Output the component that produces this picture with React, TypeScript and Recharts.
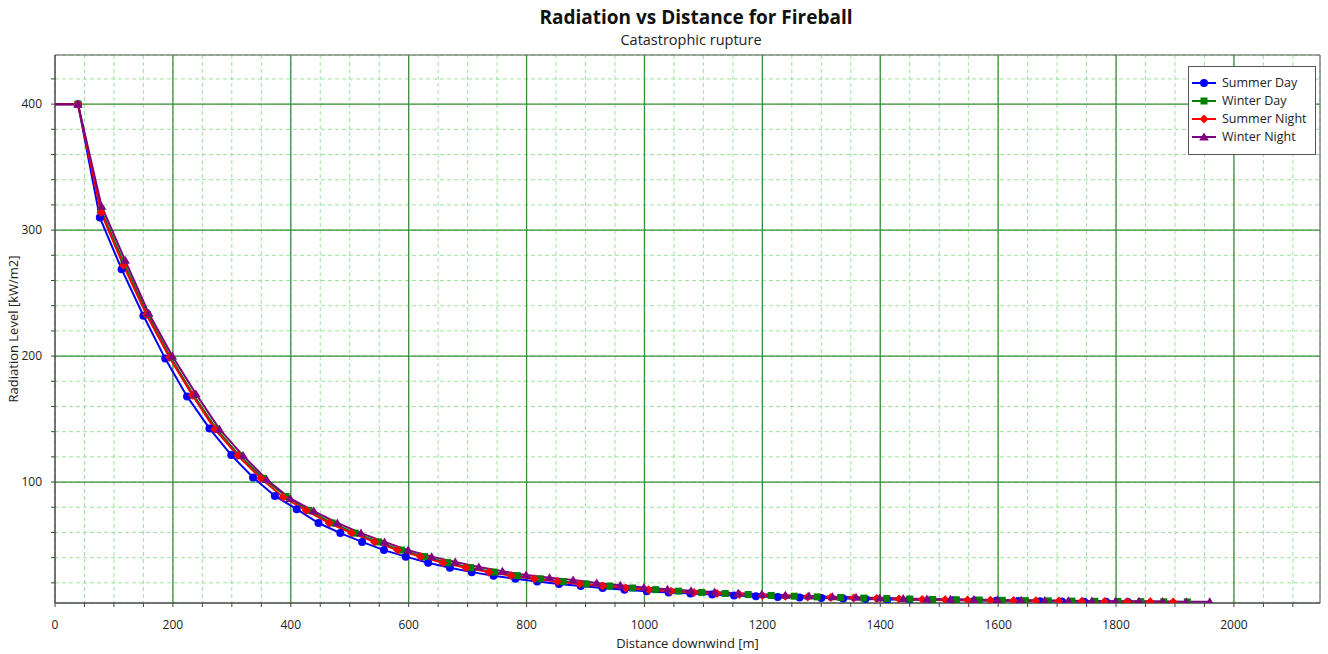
import React from 'react';
import { LineChart, Line, XAxis, YAxis, CartesianGrid, ReferenceLine, ReferenceArea, Legend } from 'recharts';

const FONT = '"Segoe UI", "Open Sans", "Noto Sans", sans-serif';

const chartTitle = 'Radiation vs Distance for Fireball';
const chartSubtitle = 'Catastrophic rupture';
const xAxisTitle = 'Distance downwind [m]';
const yAxisTitle = 'Radiation Level [kW/m2]';

const seriesNames = ['Summer Day', 'Winter Day', 'Summer Night', 'Winter Night'];
const seriesColors = ['#0000FF', '#008000', '#FF0000', '#800080'];
const seriesShapes = ['circle', 'square', 'diamond', 'triangle'];

const summerDayX = [0, 39, 76, 113, 150, 187, 224, 262, 299, 336, 373, 410, 447, 484, 521, 558, 595, 633, 670, 707, 744, 781, 818, 855, 892, 929, 966, 1004, 1041, 1078, 1115, 1152, 1189, 1226, 1263, 1300, 1337, 1375, 1412, 1449, 1486, 1523, 1560, 1597, 1634, 1671, 1708, 1746, 1783, 1820];
const summerDayY = [400, 400, 310, 269, 232, 198, 168, 142.6, 121.4, 103.7, 89, 78.5, 67.5, 59.5, 52.5, 46, 40.8, 36, 32, 28.5, 25.7, 23.2, 21, 19.1, 17.4, 15.9, 14.6, 13.4, 12.4, 11.5, 10.7, 10, 9.4, 8.85, 8.35, 7.9, 7.5, 7.15, 6.85, 6.6, 6.35, 6.1, 5.9, 5.7, 5.5, 5.35, 5.2, 5.05, 4.9, 4.8];

const winterDayX = [0, 39, 78, 117, 157, 196, 235, 274, 313, 353, 392, 431, 470, 509, 549, 588, 627, 666, 705, 745, 784, 823, 862, 901, 941, 980, 1019, 1058, 1097, 1137, 1176, 1215, 1254, 1293, 1333, 1372, 1411, 1450, 1489, 1529, 1568, 1607, 1646, 1685, 1725, 1764, 1803, 1842, 1881, 1921];
const winterDayY = [400, 400, 316, 274, 233, 199, 169, 142, 121, 103, 88.5, 77.5, 67.5, 59.5, 52.5, 46, 40.8, 36, 32, 28.5, 25.7, 23.2, 21, 19.1, 17.4, 15.9, 14.6, 13.4, 12.4, 11.5, 10.7, 10, 9.4, 8.85, 8.35, 7.9, 7.5, 7.15, 6.85, 6.6, 6.35, 6.1, 5.9, 5.7, 5.5, 5.35, 5.2, 5.05, 4.9, 4.8];

const summerNightX = [0, 39, 78, 116, 155, 194, 233, 271, 310, 349, 387, 426, 465, 503, 542, 581, 620, 658, 697, 736, 774, 813, 852, 890, 929, 968, 1007, 1045, 1084, 1123, 1161, 1200, 1239, 1277, 1316, 1355, 1394, 1432, 1471, 1510, 1548, 1587, 1626, 1664, 1703, 1742, 1781, 1819, 1858, 1897];
const summerNightY = [400, 400, 314, 272, 233, 199, 169, 142, 121, 103, 88, 77.5, 67.5, 59.5, 52.5, 46, 40.8, 36, 32, 28.5, 25.7, 23.2, 21, 19.1, 17.4, 15.9, 14.6, 13.4, 12.4, 11.5, 10.7, 10, 9.4, 8.85, 8.35, 7.9, 7.5, 7.15, 6.85, 6.6, 6.35, 6.1, 5.9, 5.7, 5.5, 5.35, 5.2, 5.05, 4.9, 4.8];

const winterNightX = [0, 39, 79, 119, 159, 199, 239, 279, 319, 359, 399, 439, 479, 519, 559, 599, 639, 679, 719, 759, 799, 839, 879, 919, 959, 999, 1039, 1079, 1119, 1159, 1199, 1239, 1279, 1319, 1359, 1399, 1439, 1479, 1519, 1559, 1599, 1639, 1679, 1719, 1759, 1799, 1839, 1879, 1919, 1959];
const winterNightY = [400, 400, 319, 276, 234, 200, 170, 142, 121, 102, 87, 77, 67.5, 59.5, 52.5, 46, 40.8, 36.5, 32.5, 29.2, 26.2, 24, 22.2, 19.8, 18, 16.4, 15, 13.8, 12.7, 11.8, 10.9, 10.2, 9.6, 9, 8.5, 8, 7.6, 7.25, 6.95, 6.7, 6.45, 6.2, 6, 5.8, 5.6, 5.45, 5.3, 5.15, 5, 4.9];

const xTicks = [0, 50, 100, 150, 200, 250, 300, 350, 400, 450, 500, 550, 600, 650, 700, 750, 800, 850, 900, 950, 1000, 1050, 1100, 1150, 1200, 1250, 1300, 1350, 1400, 1450, 1500, 1550, 1600, 1650, 1700, 1750, 1800, 1850, 1900, 1950, 2000, 2050, 2100];
const xMajor = [200, 400, 600, 800, 1000, 1200, 1400, 1600, 1800, 2000];
const yTicks = [20, 40, 60, 80, 100, 120, 140, 160, 180, 200, 220, 240, 260, 280, 300, 320, 340, 360, 380, 400, 420];
const yMajor = [100, 200, 300, 400];

const X_MIN = 0;
const X_MAX = 2146;
const Y_MIN = 4;
const Y_MAX = 439;

const toPoints = (xs: number[], ys: number[]) => xs.map((x, i) => ({ x, y: ys[i] }));

const seriesData = [
  toPoints(summerDayX, summerDayY),
  toPoints(winterDayX, winterDayY),
  toPoints(summerNightX, summerNightY),
  toPoints(winterNightX, winterNightY),
];

function Marker({ shape, color, cx, cy }: { shape: string; color: string; cx: number; cy: number }) {
  if (shape === 'circle') return <circle cx={cx} cy={cy} r={4} fill={color} />;
  if (shape === 'square') return <rect x={cx - 3.5} y={cy - 3.5} width={7} height={7} fill={color} />;
  if (shape === 'diamond')
    return <polygon points={`${cx},${cy - 4.5} ${cx + 4.5},${cy} ${cx},${cy + 4.5} ${cx - 4.5},${cy}`} fill={color} />;
  return <polygon points={`${cx},${cy - 4.5} ${cx + 4.8},${cy + 3.5} ${cx - 4.8},${cy + 3.5}`} fill={color} />;
}

const makeDot = (shape: string, color: string, name: string) => (props: any) => {
  const { cx, cy, index } = props;
  if (index === 0 || cx == null || cy == null) return <g key={`${name}-d-${index}`} />;
  return (
    <g key={`${name}-d-${index}`}>
      <Marker shape={shape} color={color} cx={cx} cy={cy} />
    </g>
  );
};

const renderLegend = () => (
  <div
    style={{
      position: 'relative',
      width: 126,
      height: 87,
      border: '1px solid #555',
      background: '#fff',
      fontFamily: FONT,
      fontSize: 12.5,
      color: '#222',
    }}
  >
    {seriesNames.map((n, i) => (
      <div
        key={n}
        style={{ position: 'absolute', left: 3, top: 8 + i * 18, height: 16, display: 'flex', alignItems: 'center', whiteSpace: 'nowrap' }}
      >
        <svg width={24} height={12} style={{ display: 'block' }}>
          <line x1={0} y1={6} x2={24} y2={6} stroke={seriesColors[i]} strokeWidth={2} />
          <Marker shape={seriesShapes[i]} color={seriesColors[i]} cx={12} cy={6} />
        </svg>
        <span style={{ marginLeft: 6, lineHeight: '16px' }}>{n}</span>
      </div>
    ))}
  </div>
);

const tickStyle = { fontFamily: FONT, fontSize: 12, fill: '#222' };
const axisTitleStyle = { fontFamily: FONT, fontSize: 13, fill: '#222' };

export default function App() {
  return (
    <div style={{ position: 'absolute', left: 0, top: 0, width: 1328, height: 654, background: '#fff', fontFamily: FONT }}>
      <div
        style={{
          position: 'absolute',
          left: 391,
          width: 610,
          top: 4,
          textAlign: 'center',
          fontWeight: 700,
          fontSize: 19,
          lineHeight: '26px',
          color: '#111',
        }}
      >
        {chartTitle}
      </div>
      <div
        style={{
          position: 'absolute',
          left: 386,
          width: 610,
          top: 30,
          textAlign: 'center',
          fontSize: 14.5,
          lineHeight: '20px',
          color: '#222',
        }}
      >
        {chartSubtitle}
      </div>
      <LineChart width={1328} height={654} margin={{ top: 55, right: 8, bottom: 0, left: 0 }}>
        <CartesianGrid stroke="#9fe29f" strokeDasharray="4 3" strokeWidth={1} />
        {xMajor.map((v) => (
          <ReferenceLine key={`xm-${v}`} x={v} stroke="#3a8f3a" strokeWidth={1.3} />
        ))}
        {yMajor.map((v) => (
          <ReferenceLine key={`ym-${v}`} y={v} stroke="#3a8f3a" strokeWidth={1.3} />
        ))}
        <ReferenceArea x1={X_MIN} x2={X_MAX} y1={Y_MIN} y2={Y_MAX} fill="none" stroke="#555" strokeWidth={1} />
        <XAxis
          type="number"
          dataKey="x"
          domain={[X_MIN, X_MAX]}
          ticks={xTicks}
          interval={0}
          allowDataOverflow
          height={51}
          tickSize={4}
          tickMargin={13}
          stroke="#444"
          tick={tickStyle}
          tickFormatter={(v: number) => (v % 200 === 0 ? String(v) : '')}
          label={(p: any) => {
            const vb = p.viewBox || {};
            return (
              <text x={vb.x + vb.width / 2} y={648} textAnchor="middle" style={axisTitleStyle}>
                {xAxisTitle}
              </text>
            );
          }}
        />
        <YAxis
          type="number"
          dataKey="y"
          domain={[Y_MIN, Y_MAX]}
          ticks={yTicks}
          interval={0}
          allowDataOverflow
          width={55}
          tickSize={4}
          tickMargin={9}
          stroke="#444"
          tick={tickStyle}
          tickFormatter={(v: number) => (v % 100 === 0 ? String(v) : '')}
          label={(p: any) => {
            const vb = p.viewBox || {};
            const cy = vb.y + vb.height / 2;
            return (
              <text x={18} y={cy} textAnchor="middle" transform={`rotate(-90 18 ${cy})`} style={axisTitleStyle}>
                {yAxisTitle}
              </text>
            );
          }}
        />
        {seriesData.map((d, i) => (
          <Line
            key={seriesNames[i]}
            data={d}
            dataKey="y"
            name={seriesNames[i]}
            type="linear"
            stroke={seriesColors[i]}
            strokeWidth={2}
            dot={makeDot(seriesShapes[i], seriesColors[i], seriesNames[i])}
            activeDot={false}
            isAnimationActive={false}
          />
        ))}
        <Legend
          layout="horizontal"
          verticalAlign="middle"
          align="center"
          content={renderLegend}
          wrapperStyle={{ position: 'absolute', left: 1188, top: 66, width: 128, height: 89 }}
        />
      </LineChart>
    </div>
  );
}
